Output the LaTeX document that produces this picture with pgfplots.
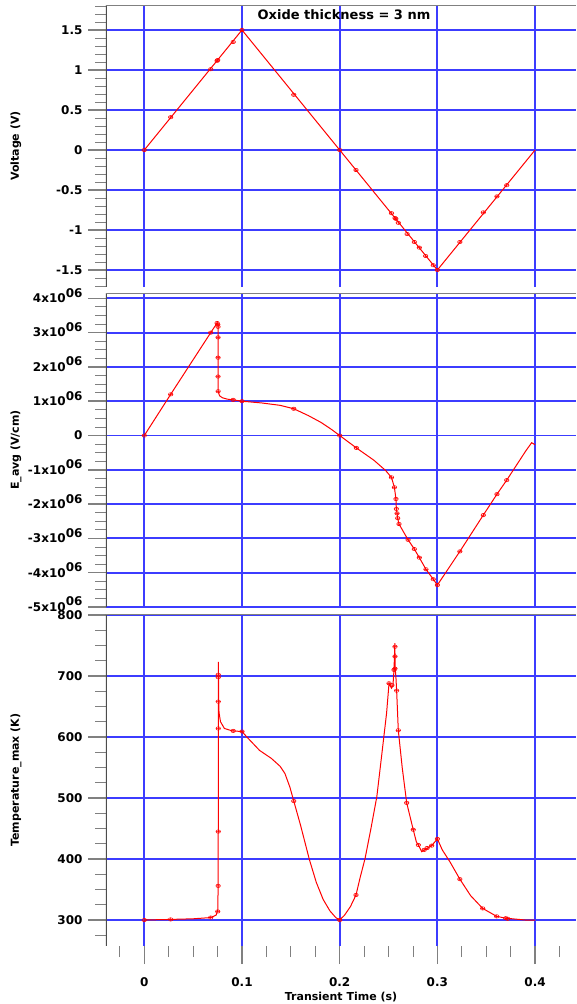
\documentclass[border=0pt]{standalone}
\usepackage{fontspec}
\setmainfont{DejaVu Sans}
\usepackage{pgfplots}
\pgfplotsset{compat=1.18}
\definecolor{gridblue}{RGB}{60,60,255}

\pgfplotsset{
  panel/.style={
    scale only axis, width=470pt,
    xmin=-0.0392, xmax=0.4419,
    axis line style={draw=none},
    tick align=outside, ytick pos=left, xtick pos=bottom,
    major tick length=18pt, minor tick length=11pt,
    major tick style={line width=1.5pt},
    minor tick style={line width=0.8pt},
    xtick={0,0.1,0.2,0.3,0.4},
    xmajorgrids, ymajorgrids,
    major grid style={draw=gridblue, line width=1.9pt},
    /pgf/number format/assume math mode=true,
    tick label style={font=\fontsize{12}{13}\selectfont\bfseries},
    yticklabel style={xshift=-2pt},
    every axis y label/.style={at={(rel axis cs:0,0.5)}, rotate=90, anchor=center, yshift=90pt,
      font=\fontsize{11}{12}\selectfont\bfseries},
  },
  noxticks/.style={xmajorticks=false, xminorticks=false, xticklabels={}},
  redline/.style={red, line width=1pt, no markers},
  redmarks/.style={only marks, red, mark=oplus, mark size=2.3pt,
    mark options={line width=0.5pt, yscale=0.75}},
}

\newcommand{\frameit}{%
  \draw[black!70, line width=1.2pt] (rel axis cs:0,0) -- (rel axis cs:0,1);
  \draw[black!50, line width=1.8pt] (rel axis cs:0,1) -- (rel axis cs:1,1);
}
\newcommand{\ex}[1]{#1x10\raisebox{0.45em}[0pt][0pt]{06}}

\begin{document}
\begin{tikzpicture}
\useasboundingbox (0,0) rectangle (576pt,-1004pt);

% ---------------- Voltage ----------------
\begin{axis}[panel, noxticks,
  at={(106pt,-5pt)}, anchor=north west, height=282pt,
  ymin=-1.7125, ymax=1.8125,
  ytick={-1.5,-1,-0.5,0,0.5,1,1.5},
  yticklabels={-1.5,-1,-0.5,0,0.5,1,1.5},
  minor ytick={-1.7,-1.6,-1.4,-1.3,-1.2,-1.1,-0.9,-0.8,-0.7,-0.6,-0.4,-0.3,-0.2,-0.1,0.1,0.2,0.3,0.4,0.6,0.7,0.8,0.9,1.1,1.2,1.3,1.4,1.6,1.7,1.8},
  ylabel={Voltage (V)},
]
\addplot[redline] coordinates {(0,0) (0.1,1.5) (0.3,-1.5) (0.4,0)};
\addplot[redmarks] coordinates {
(0,0) (0.027,0.41) (0.068,1.01) (0.0745,1.115) (0.0752,1.125) (0.091,1.35) (0.1,1.5)
(0.153,0.69) (0.2,0) (0.2167,-0.25) (0.253,-0.79) (0.2566,-0.85) (0.2575,-0.86) (0.26,-0.91)
(0.269,-1.05) (0.2764,-1.15) (0.2815,-1.22) (0.288,-1.325) (0.2958,-1.44) (0.3,-1.5)
(0.323,-1.15) (0.347,-0.78) (0.361,-0.58) (0.371,-0.44)};
\frameit
\end{axis}

% ---------------- E_avg ----------------
\begin{axis}[panel, noxticks,
  at={(106pt,-293pt)}, anchor=north west, height=314pt,
  ymin=-5, ymax=4.155,
  ytick={-5,-4,-3,-2,-1,0,1,2,3,4},
  yticklabels={\ex{-5},\ex{-4},\ex{-3},\ex{-2},\ex{-1},0,\ex{1},\ex{2},\ex{3},\ex{4}},
  minor ytick={-4.75,-4.5,-4.25,-3.75,-3.5,-3.25,-2.75,-2.5,-2.25,-1.75,-1.5,-1.25,-0.75,-0.5,-0.25,0.25,0.5,0.75,1.25,1.5,1.75,2.25,2.5,2.75,3.25,3.5,3.75},
  ylabel={E\_avg (V/cm)},
]
\addplot[redline] coordinates {
(0,0) (0.027,1.2) (0.068,3.0) (0.0745,3.28) (0.0752,3.25) (0.0755,3.2) (0.0755,2.86)
(0.0755,2.27) (0.0755,1.72) (0.0756,1.29) (0.077,1.16) (0.08,1.1) (0.085,1.06) (0.091,1.04)
(0.1,1.0) (0.12,0.95) (0.139,0.88) (0.153,0.78) (0.168,0.58) (0.181,0.38) (0.192,0.17)
(0.2,0) (0.217,-0.36) (0.235,-0.72) (0.247,-1.02) (0.253,-1.22) (0.256,-1.51) (0.2576,-1.85)
(0.258,-2.14) (0.2587,-2.27) (0.2594,-2.41) (0.2607,-2.58) (0.270,-3.04) (0.2764,-3.31)
(0.2815,-3.56) (0.2883,-3.90) (0.2958,-4.19) (0.3,-4.36) (0.323,-3.38) (0.347,-2.32)
(0.361,-1.71) (0.371,-1.30) (0.3907,-0.44) (0.3965,-0.21) (0.4,-0.27)};
\addplot[redmarks] coordinates {
(0,0) (0.027,1.2) (0.068,3.0) (0.0745,3.28) (0.0752,3.24) (0.0755,3.17) (0.0755,2.86)
(0.0755,2.27) (0.0755,1.72) (0.0756,1.29) (0.091,1.04) (0.1,1.0) (0.153,0.78) (0.2,0)
(0.217,-0.36) (0.253,-1.22) (0.256,-1.51) (0.2576,-1.85) (0.258,-2.14) (0.2587,-2.27)
(0.2594,-2.41) (0.2607,-2.58) (0.270,-3.04) (0.2764,-3.31) (0.2815,-3.56) (0.2883,-3.90)
(0.2958,-4.19) (0.3,-4.36) (0.323,-3.38) (0.347,-2.32) (0.361,-1.71) (0.371,-1.30)};
\frameit
\end{axis}

% ---------------- Temperature ----------------
\begin{axis}[panel,
  at={(106pt,-614pt)}, anchor=north west, height=332pt,
  ymin=257.4, ymax=801.6,
  ytick={300,400,500,600,700,800},
  yticklabels={300,400,500,600,700,800},
  minor ytick={275,325,350,375,425,450,475,525,550,575,625,650,675,725,750,775},
  xticklabels={0,0.1,0.2,0.3,0.4},
  minor xtick={-0.025,0.025,0.05,0.075,0.125,0.15,0.175,0.225,0.25,0.275,0.325,0.35,0.375,0.425},
  xticklabel style={yshift=-10pt},
  xlabel={Transient Time (s)},
  every axis x label/.style={at={(rel axis cs:0.5,0)}, anchor=center, yshift=-51pt,
    font=\fontsize{11}{12}\selectfont\bfseries},
  ylabel={Temperature\_max (K)},
]
\addplot[redline] coordinates {
(0,300) (0.027,301) (0.05,302) (0.068,304) (0.0735,308) (0.0745,313) (0.0752,316) (0.0756,356)
(0.0757,445) (0.0757,614) (0.0757,700) (0.0758,723) (0.0760,690) (0.0762,658) (0.0765,640)
(0.078,625) (0.082,614) (0.09,610) (0.1,609) (0.105,600) (0.118,578) (0.13,565) (0.139,552)
(0.144,540) (0.149,518) (0.153,495) (0.16,455) (0.169,399) (0.176,362) (0.183,334) (0.19,315)
(0.196,304) (0.2,300) (0.205,308) (0.211,322) (0.2167,341) (0.221,370) (0.226,401) (0.232,450)
(0.238,502) (0.243,570) (0.248,639) (0.2505,688) (0.253,680) (0.2545,684) (0.2556,710)
(0.2565,754) (0.2568,712) (0.2575,700) (0.2583,676) (0.260,611) (0.264,550) (0.2686,492)
(0.2753,448) (0.2785,428) (0.2805,423) (0.284,412) (0.288,416) (0.2942,422) (0.3,433)
(0.305,415) (0.313,395) (0.323,367) (0.334,340) (0.3464,319) (0.3607,306) (0.370,303)
(0.39,300) (0.4,300)};
\addplot[redmarks] coordinates {
(0,300) (0.027,301) (0.068,304) (0.0752,314) (0.0756,356) (0.0757,445) (0.0757,614)
(0.0757,658) (0.0757,698) (0.0757,702) (0.091,610) (0.1,609) (0.153,495) (0.2,300)
(0.2167,341) (0.2505,688) (0.2535,685) (0.2556,710) (0.2566,712) (0.2566,732) (0.2566,748)
(0.2583,676) (0.260,611) (0.2686,492) (0.2753,448) (0.2805,423) (0.2865,415) (0.2895,418)
(0.2942,422) (0.3,433) (0.323,367) (0.3464,319) (0.3607,306) (0.370,303) (0.372,302)};
\frameit
\end{axis}

\node[font=\fontsize{13}{14}\selectfont\bfseries] at (344pt,-15pt) {Oxide thickness = 3 nm};
\end{tikzpicture}
\end{document}
